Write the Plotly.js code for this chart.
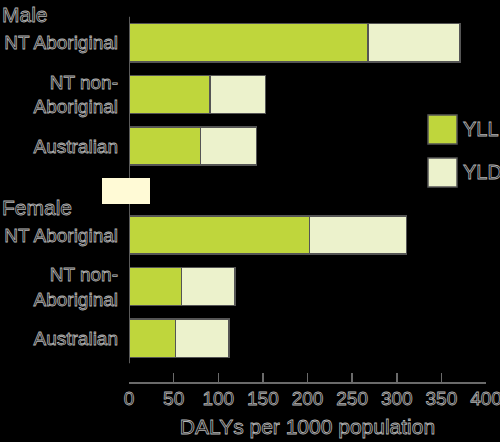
<!DOCTYPE html>
<html>
<head>
<meta charset="utf-8">
<script src="https://cdn.plot.ly/plotly-3.0.1.min.js"></script>
<style>
html,body{margin:0;padding:0;background:#000;}
#chart{width:500px;height:442px;}
#chart svg text{stroke:#b4b4b4;stroke-width:0.8px;}
</style>
</head>
<body>
<div id="chart"></div>
<script>
// ---- data ----
var categories = ['NT Aboriginal', 'NT non-<br>Aboriginal', 'Australian'];
var groups = ['Male', 'Female'];
var seriesNames = ['YLL', 'YLD'];
var maleYLL = [268, 91, 80];
var maleYLD = [103, 62, 63];
var femaleYLL = [202, 59, 52];
var femaleYLD = [109, 60, 60];
var xTickVals = [0, 50, 100, 150, 200, 250, 300, 350, 400];
var xTitle = 'DALYs per 1000 population';

// ---- styles ----
var colYLL = '#bfd63c';
var colYLD = '#ecf2cc';
var edge = {color: '#555555', width: 1.5};
var font = 'Liberation Sans, Arial, sans-serif';
var txtCol = '#0a0a0a';

function bar(x, name, yax, col) {
  return {type: 'bar', orientation: 'h', x: x, y: categories, name: name,
    yaxis: yax, marker: {color: col, line: edge}, showlegend: false, hoverinfo: 'x'};
}

var data = [
  bar(maleYLL, seriesNames[0], 'y', colYLL),
  bar(maleYLD, seriesNames[1], 'y', colYLD),
  bar(femaleYLL, seriesNames[0], 'y2', colYLL),
  bar(femaleYLD, seriesNames[1], 'y2', colYLD)
];

var H = 364.45; // plot height in px
function py(px) { return (381.7 - px) / H; }
function pxX(px) { return (px - 129) / 357; }

var yCommon = {type: 'category', autorange: 'reversed', showgrid: false, zeroline: false,
  showline: false, ticks: '', ticklabelstandoff: 10,
  tickfont: {family: font, size: 19, color: txtCol}};

var layout = {
  width: 500, height: 442,
  margin: {l: 129, r: 14, t: 17.25, b: 60.3},
  paper_bgcolor: '#000', plot_bgcolor: '#000',
  barmode: 'stack', bargap: 0.26,
  showlegend: false,
  xaxis: {range: [0, 400], tickvals: xTickVals, anchor: 'free', position: 0,
    showgrid: false, zeroline: false, showline: true, linecolor: '#6a6a6a', linewidth: 1.5,
    ticks: 'inside', ticklen: 9, tickcolor: '#6a6a6a', tickwidth: 1.5,
    ticklabelstandoff: -1, ticklabeloverflow: 'allow',
    tickfont: {family: font, size: 19, color: txtCol},
    title: {text: xTitle, font: {family: font, size: 21, color: txtCol}, standoff: 11}},
  yaxis: Object.assign({}, yCommon, {domain: [py(171.75), 1]}),
  yaxis2: Object.assign({}, yCommon, {domain: [py(363.75), py(209.25)], anchor: 'x'}),
  shapes: [
    {type: 'line', xref: 'x', yref: 'paper', x0: 0, x1: 0, y0: py(363), y1: py(17),
      line: {color: '#5a5a5a', width: 2}, layer: 'above'},
    {type: 'rect', xref: 'paper', yref: 'paper', x0: pxX(102), x1: pxX(150), y0: py(204), y1: py(178),
      fillcolor: '#fffad6', line: {width: 0}, layer: 'above'},
    {type: 'rect', xref: 'paper', yref: 'paper', x0: pxX(428), x1: pxX(457), y0: py(144), y1: py(115),
      fillcolor: colYLL, line: edge},
    {type: 'rect', xref: 'paper', yref: 'paper', x0: pxX(428), x1: pxX(457), y0: py(187), y1: py(158),
      fillcolor: colYLD, line: edge}
  ],
  annotations: [
    {xref: 'paper', yref: 'paper', x: pxX(0), y: py(14.5), xanchor: 'left', yanchor: 'middle',
      text: groups[0], showarrow: false, font: {family: font, size: 21, color: txtCol}},
    {xref: 'paper', yref: 'paper', x: pxX(0), y: py(207), xanchor: 'left', yanchor: 'middle',
      text: groups[1], showarrow: false, font: {family: font, size: 21, color: txtCol}},
    {xref: 'paper', yref: 'paper', x: pxX(461), y: py(129.5), xanchor: 'left', yanchor: 'middle',
      text: seriesNames[0], showarrow: false, font: {family: font, size: 20, color: txtCol}},
    {xref: 'paper', yref: 'paper', x: pxX(461), y: py(172.5), xanchor: 'left', yanchor: 'middle',
      text: seriesNames[1], showarrow: false, font: {family: font, size: 20, color: txtCol}}
  ]
};

Plotly.newPlot('chart', data, layout, {staticPlot: true, displayModeBar: false});
</script>
</body>
</html>
